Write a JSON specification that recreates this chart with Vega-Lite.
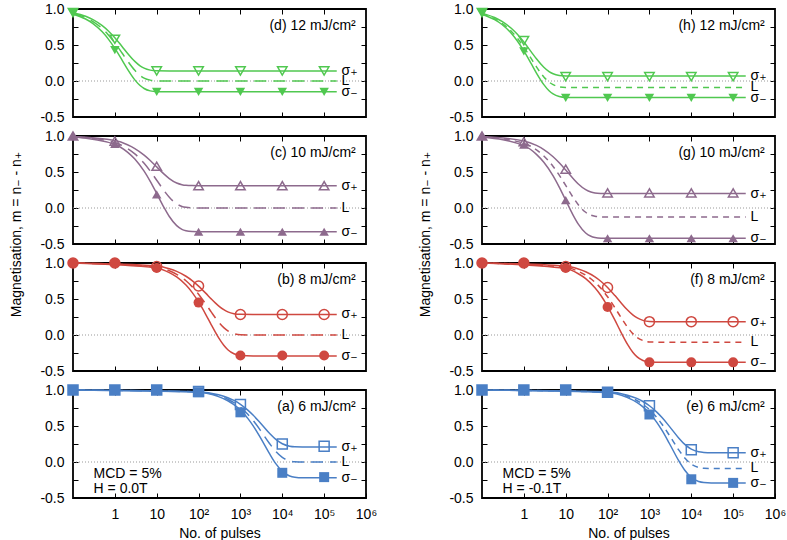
{
"$schema": "https://vega.github.io/schema/vega-lite/v6.json",
"padding": {"left": 8, "top": 1, "right": 0, "bottom": 2},
"datasets": {"all": [
{"p":"d","k":"c","s":"+","x":0.1,"m":0.948},{"p":"d","k":"c","s":"+","x":0.2,"m":0.899},{"p":"d","k":"c","s":"+","x":0.3,"m":0.853},{"p":"d","k":"c","s":"+","x":0.5,"m":0.769},{"p":"d","k":"c","s":"+","x":0.7,"m":0.695},{"p":"d","k":"c","s":"+","x":1,"m":0.6},{"p":"d","k":"c","s":"+","x":1.5,"m":0.477},{"p":"d","k":"c","s":"+","x":2,"m":0.386},{"p":"d","k":"c","s":"+","x":3,"m":0.272},{"p":"d","k":"c","s":"+","x":4,"m":0.211},{"p":"d","k":"c","s":"+","x":5,"m":0.178},{"p":"d","k":"c","s":"+","x":7,"m":0.151},{"p":"d","k":"c","s":"+","x":10,"m":0.142},{"p":"d","k":"c","s":"+","x":20,"m":0.14},{"p":"d","k":"c","s":"+","x":200000,"m":0.14},
{"p":"d","k":"c","s":"-","x":0.1,"m":0.928},{"p":"d","k":"c","s":"-","x":0.2,"m":0.861},{"p":"d","k":"c","s":"-","x":0.3,"m":0.798},{"p":"d","k":"c","s":"-","x":0.5,"m":0.683},{"p":"d","k":"c","s":"-","x":0.7,"m":0.582},{"p":"d","k":"c","s":"-","x":1,"m":0.453},{"p":"d","k":"c","s":"-","x":1.5,"m":0.287},{"p":"d","k":"c","s":"-","x":2,"m":0.166},{"p":"d","k":"c","s":"-","x":3,"m":0.016},{"p":"d","k":"c","s":"-","x":4,"m":-0.063},{"p":"d","k":"c","s":"-","x":5,"m":-0.104},{"p":"d","k":"c","s":"-","x":7,"m":-0.137},{"p":"d","k":"c","s":"-","x":10,"m":-0.148},{"p":"d","k":"c","s":"-","x":20,"m":-0.15},{"p":"d","k":"c","s":"-","x":200000,"m":-0.15},
{"p":"d","k":"c","s":"L","x":0.1,"m":0.938},{"p":"d","k":"c","s":"L","x":0.2,"m":0.88},{"p":"d","k":"c","s":"L","x":0.3,"m":0.826},{"p":"d","k":"c","s":"L","x":0.5,"m":0.727},{"p":"d","k":"c","s":"L","x":0.7,"m":0.64},{"p":"d","k":"c","s":"L","x":1,"m":0.529},{"p":"d","k":"c","s":"L","x":1.5,"m":0.385},{"p":"d","k":"c","s":"L","x":2,"m":0.28},{"p":"d","k":"c","s":"L","x":3,"m":0.148},{"p":"d","k":"c","s":"L","x":4,"m":0.078},{"p":"d","k":"c","s":"L","x":5,"m":0.041},{"p":"d","k":"c","s":"L","x":7,"m":0.012},{"p":"d","k":"c","s":"L","x":10,"m":0.002},{"p":"d","k":"c","s":"L","x":20,"m":0},{"p":"d","k":"c","s":"L","x":200000,"m":0},
{"p":"h","k":"c","s":"+","x":0.1,"m":0.939},{"p":"h","k":"c","s":"+","x":0.2,"m":0.882},{"p":"h","k":"c","s":"+","x":0.3,"m":0.828},{"p":"h","k":"c","s":"+","x":0.5,"m":0.732},{"p":"h","k":"c","s":"+","x":0.7,"m":0.648},{"p":"h","k":"c","s":"+","x":1,"m":0.541},{"p":"h","k":"c","s":"+","x":1.5,"m":0.405},{"p":"h","k":"c","s":"+","x":2,"m":0.309},{"p":"h","k":"c","s":"+","x":3,"m":0.191},{"p":"h","k":"c","s":"+","x":4,"m":0.131},{"p":"h","k":"c","s":"+","x":5,"m":0.101},{"p":"h","k":"c","s":"+","x":7,"m":0.078},{"p":"h","k":"c","s":"+","x":10,"m":0.071},{"p":"h","k":"c","s":"+","x":20,"m":0.07},{"p":"h","k":"c","s":"+","x":200000,"m":0.07},
{"p":"h","k":"c","s":"-","x":0.1,"m":0.924},{"p":"h","k":"c","s":"-","x":0.2,"m":0.852},{"p":"h","k":"c","s":"-","x":0.3,"m":0.785},{"p":"h","k":"c","s":"-","x":0.5,"m":0.663},{"p":"h","k":"c","s":"-","x":0.7,"m":0.555},{"p":"h","k":"c","s":"-","x":1,"m":0.418},{"p":"h","k":"c","s":"-","x":1.5,"m":0.24},{"p":"h","k":"c","s":"-","x":2,"m":0.111},{"p":"h","k":"c","s":"-","x":3,"m":-0.05},{"p":"h","k":"c","s":"-","x":4,"m":-0.135},{"p":"h","k":"c","s":"-","x":5,"m":-0.18},{"p":"h","k":"c","s":"-","x":7,"m":-0.216},{"p":"h","k":"c","s":"-","x":10,"m":-0.228},{"p":"h","k":"c","s":"-","x":20,"m":-0.23},{"p":"h","k":"c","s":"-","x":200000,"m":-0.23},
{"p":"h","k":"c","s":"L","x":0.1,"m":0.93},{"p":"h","k":"c","s":"L","x":0.2,"m":0.864},{"p":"h","k":"c","s":"L","x":0.3,"m":0.802},{"p":"h","k":"c","s":"L","x":0.5,"m":0.691},{"p":"h","k":"c","s":"L","x":0.7,"m":0.594},{"p":"h","k":"c","s":"L","x":1,"m":0.47},{"p":"h","k":"c","s":"L","x":1.5,"m":0.311},{"p":"h","k":"c","s":"L","x":2,"m":0.197},{"p":"h","k":"c","s":"L","x":3,"m":0.057},{"p":"h","k":"c","s":"L","x":4,"m":-0.014},{"p":"h","k":"c","s":"L","x":5,"m":-0.051},{"p":"h","k":"c","s":"L","x":7,"m":-0.08},{"p":"h","k":"c","s":"L","x":10,"m":-0.089},{"p":"h","k":"c","s":"L","x":20,"m":-0.09},{"p":"h","k":"c","s":"L","x":200000,"m":-0.09},
{"p":"c","k":"c","s":"+","x":0.1,"m":0.993},{"p":"c","k":"c","s":"+","x":1,"m":0.936},{"p":"c","k":"c","s":"+","x":2,"m":0.878},{"p":"c","k":"c","s":"+","x":3,"m":0.826},{"p":"c","k":"c","s":"+","x":5,"m":0.735},{"p":"c","k":"c","s":"+","x":7,"m":0.66},{"p":"c","k":"c","s":"+","x":10,"m":0.571},{"p":"c","k":"c","s":"+","x":15,"m":0.471},{"p":"c","k":"c","s":"+","x":20,"m":0.409},{"p":"c","k":"c","s":"+","x":30,"m":0.347},{"p":"c","k":"c","s":"+","x":40,"m":0.324},{"p":"c","k":"c","s":"+","x":50,"m":0.315},{"p":"c","k":"c","s":"+","x":70,"m":0.311},{"p":"c","k":"c","s":"+","x":100,"m":0.31},{"p":"c","k":"c","s":"+","x":200000,"m":0.31},
{"p":"c","k":"c","s":"-","x":0.1,"m":0.988},{"p":"c","k":"c","s":"-","x":1,"m":0.883},{"p":"c","k":"c","s":"-","x":2,"m":0.777},{"p":"c","k":"c","s":"-","x":3,"m":0.68},{"p":"c","k":"c","s":"-","x":5,"m":0.511},{"p":"c","k":"c","s":"-","x":7,"m":0.37},{"p":"c","k":"c","s":"-","x":10,"m":0.201},{"p":"c","k":"c","s":"-","x":15,"m":0.006},{"p":"c","k":"c","s":"-","x":20,"m":-0.118},{"p":"c","k":"c","s":"-","x":30,"m":-0.245},{"p":"c","k":"c","s":"-","x":40,"m":-0.296},{"p":"c","k":"c","s":"-","x":50,"m":-0.316},{"p":"c","k":"c","s":"-","x":70,"m":-0.328},{"p":"c","k":"c","s":"-","x":100,"m":-0.33},{"p":"c","k":"c","s":"-","x":200000,"m":-0.33},
{"p":"c","k":"c","s":"L","x":0.1,"m":0.99},{"p":"c","k":"c","s":"L","x":1,"m":0.909},{"p":"c","k":"c","s":"L","x":2,"m":0.827},{"p":"c","k":"c","s":"L","x":3,"m":0.751},{"p":"c","k":"c","s":"L","x":5,"m":0.621},{"p":"c","k":"c","s":"L","x":7,"m":0.513},{"p":"c","k":"c","s":"L","x":10,"m":0.386},{"p":"c","k":"c","s":"L","x":15,"m":0.24},{"p":"c","k":"c","s":"L","x":20,"m":0.149},{"p":"c","k":"c","s":"L","x":30,"m":0.057},{"p":"c","k":"c","s":"L","x":40,"m":0.022},{"p":"c","k":"c","s":"L","x":50,"m":0.009},{"p":"c","k":"c","s":"L","x":70,"m":0.001},{"p":"c","k":"c","s":"L","x":100,"m":0},{"p":"c","k":"c","s":"L","x":200000,"m":0},
{"p":"g","k":"c","s":"+","x":0.1,"m":0.993},{"p":"g","k":"c","s":"+","x":1,"m":0.932},{"p":"g","k":"c","s":"+","x":2,"m":0.869},{"p":"g","k":"c","s":"+","x":3,"m":0.812},{"p":"g","k":"c","s":"+","x":5,"m":0.712},{"p":"g","k":"c","s":"+","x":7,"m":0.628},{"p":"g","k":"c","s":"+","x":10,"m":0.528},{"p":"g","k":"c","s":"+","x":15,"m":0.41},{"p":"g","k":"c","s":"+","x":20,"m":0.334},{"p":"g","k":"c","s":"+","x":30,"m":0.255},{"p":"g","k":"c","s":"+","x":40,"m":0.222},{"p":"g","k":"c","s":"+","x":50,"m":0.209},{"p":"g","k":"c","s":"+","x":70,"m":0.202},{"p":"g","k":"c","s":"+","x":100,"m":0.2},{"p":"g","k":"c","s":"+","x":200000,"m":0.2},
{"p":"g","k":"c","s":"-","x":0.1,"m":0.986},{"p":"g","k":"c","s":"-","x":1,"m":0.866},{"p":"g","k":"c","s":"-","x":2,"m":0.745},{"p":"g","k":"c","s":"-","x":3,"m":0.635},{"p":"g","k":"c","s":"-","x":5,"m":0.446},{"p":"g","k":"c","s":"-","x":7,"m":0.29},{"p":"g","k":"c","s":"-","x":10,"m":0.108},{"p":"g","k":"c","s":"-","x":15,"m":-0.098},{"p":"g","k":"c","s":"-","x":20,"m":-0.224},{"p":"g","k":"c","s":"-","x":30,"m":-0.347},{"p":"g","k":"c","s":"-","x":40,"m":-0.393},{"p":"g","k":"c","s":"-","x":50,"m":-0.41},{"p":"g","k":"c","s":"-","x":70,"m":-0.419},{"p":"g","k":"c","s":"-","x":100,"m":-0.42},{"p":"g","k":"c","s":"-","x":200000,"m":-0.42},
{"p":"g","k":"c","s":"L","x":0.1,"m":0.989},{"p":"g","k":"c","s":"L","x":1,"m":0.899},{"p":"g","k":"c","s":"L","x":2,"m":0.807},{"p":"g","k":"c","s":"L","x":3,"m":0.723},{"p":"g","k":"c","s":"L","x":5,"m":0.577},{"p":"g","k":"c","s":"L","x":7,"m":0.456},{"p":"g","k":"c","s":"L","x":10,"m":0.313},{"p":"g","k":"c","s":"L","x":15,"m":0.148},{"p":"g","k":"c","s":"L","x":20,"m":0.045},{"p":"g","k":"c","s":"L","x":30,"m":-0.059},{"p":"g","k":"c","s":"L","x":40,"m":-0.099},{"p":"g","k":"c","s":"L","x":50,"m":-0.115},{"p":"g","k":"c","s":"L","x":70,"m":-0.123},{"p":"g","k":"c","s":"L","x":100,"m":-0.125},{"p":"g","k":"c","s":"L","x":200000,"m":-0.125},
{"p":"b","k":"c","s":"+","x":0.1,"m":1},{"p":"b","k":"c","s":"+","x":10,"m":0.959},{"p":"b","k":"c","s":"+","x":20,"m":0.92},{"p":"b","k":"c","s":"+","x":30,"m":0.883},{"p":"b","k":"c","s":"+","x":50,"m":0.816},{"p":"b","k":"c","s":"+","x":70,"m":0.756},{"p":"b","k":"c","s":"+","x":100,"m":0.679},{"p":"b","k":"c","s":"+","x":150,"m":0.578},{"p":"b","k":"c","s":"+","x":200,"m":0.502},{"p":"b","k":"c","s":"+","x":300,"m":0.405},{"p":"b","k":"c","s":"+","x":400,"m":0.351},{"p":"b","k":"c","s":"+","x":500,"m":0.321},{"p":"b","k":"c","s":"+","x":700,"m":0.296},{"p":"b","k":"c","s":"+","x":1000,"m":0.287},{"p":"b","k":"c","s":"+","x":2000,"m":0.285},{"p":"b","k":"c","s":"+","x":200000,"m":0.285},
{"p":"b","k":"c","s":"-","x":0.1,"m":0.999},{"p":"b","k":"c","s":"-","x":10,"m":0.932},{"p":"b","k":"c","s":"-","x":20,"m":0.867},{"p":"b","k":"c","s":"-","x":30,"m":0.806},{"p":"b","k":"c","s":"-","x":50,"m":0.693},{"p":"b","k":"c","s":"-","x":70,"m":0.592},{"p":"b","k":"c","s":"-","x":100,"m":0.459},{"p":"b","k":"c","s":"-","x":150,"m":0.281},{"p":"b","k":"c","s":"-","x":200,"m":0.145},{"p":"b","k":"c","s":"-","x":300,"m":-0.037},{"p":"b","k":"c","s":"-","x":400,"m":-0.143},{"p":"b","k":"c","s":"-","x":500,"m":-0.205},{"p":"b","k":"c","s":"-","x":700,"m":-0.261},{"p":"b","k":"c","s":"-","x":1000,"m":-0.284},{"p":"b","k":"c","s":"-","x":2000,"m":-0.29},{"p":"b","k":"c","s":"-","x":200000,"m":-0.29},
{"p":"b","k":"c","s":"L","x":0.1,"m":1},{"p":"b","k":"c","s":"L","x":10,"m":0.945},{"p":"b","k":"c","s":"L","x":20,"m":0.893},{"p":"b","k":"c","s":"L","x":30,"m":0.843},{"p":"b","k":"c","s":"L","x":50,"m":0.753},{"p":"b","k":"c","s":"L","x":70,"m":0.672},{"p":"b","k":"c","s":"L","x":100,"m":0.567},{"p":"b","k":"c","s":"L","x":150,"m":0.426},{"p":"b","k":"c","s":"L","x":200,"m":0.321},{"p":"b","k":"c","s":"L","x":300,"m":0.182},{"p":"b","k":"c","s":"L","x":400,"m":0.103},{"p":"b","k":"c","s":"L","x":500,"m":0.058},{"p":"b","k":"c","s":"L","x":700,"m":0.019},{"p":"b","k":"c","s":"L","x":1000,"m":0.003},{"p":"b","k":"c","s":"L","x":2000,"m":0},{"p":"b","k":"c","s":"L","x":200000,"m":0},
{"p":"f","k":"c","s":"+","x":0.1,"m":1},{"p":"f","k":"c","s":"+","x":10,"m":0.957},{"p":"f","k":"c","s":"+","x":20,"m":0.917},{"p":"f","k":"c","s":"+","x":30,"m":0.878},{"p":"f","k":"c","s":"+","x":50,"m":0.807},{"p":"f","k":"c","s":"+","x":70,"m":0.743},{"p":"f","k":"c","s":"+","x":100,"m":0.66},{"p":"f","k":"c","s":"+","x":150,"m":0.547},{"p":"f","k":"c","s":"+","x":200,"m":0.461},{"p":"f","k":"c","s":"+","x":300,"m":0.346},{"p":"f","k":"c","s":"+","x":400,"m":0.279},{"p":"f","k":"c","s":"+","x":500,"m":0.24},{"p":"f","k":"c","s":"+","x":700,"m":0.203},{"p":"f","k":"c","s":"+","x":1000,"m":0.189},{"p":"f","k":"c","s":"+","x":2000,"m":0.185},{"p":"f","k":"c","s":"+","x":200000,"m":0.185},
{"p":"f","k":"c","s":"-","x":0.1,"m":1},{"p":"f","k":"c","s":"-","x":10,"m":0.923},{"p":"f","k":"c","s":"-","x":20,"m":0.851},{"p":"f","k":"c","s":"-","x":30,"m":0.783},{"p":"f","k":"c","s":"-","x":50,"m":0.657},{"p":"f","k":"c","s":"-","x":70,"m":0.545},{"p":"f","k":"c","s":"-","x":100,"m":0.399},{"p":"f","k":"c","s":"-","x":150,"m":0.206},{"p":"f","k":"c","s":"-","x":200,"m":0.06},{"p":"f","k":"c","s":"-","x":300,"m":-0.131},{"p":"f","k":"c","s":"-","x":400,"m":-0.24},{"p":"f","k":"c","s":"-","x":500,"m":-0.301},{"p":"f","k":"c","s":"-","x":700,"m":-0.355},{"p":"f","k":"c","s":"-","x":1000,"m":-0.375},{"p":"f","k":"c","s":"-","x":2000,"m":-0.38},{"p":"f","k":"c","s":"-","x":200000,"m":-0.38},
{"p":"f","k":"c","s":"L","x":0.1,"m":1},{"p":"f","k":"c","s":"L","x":10,"m":0.94},{"p":"f","k":"c","s":"L","x":20,"m":0.884},{"p":"f","k":"c","s":"L","x":30,"m":0.831},{"p":"f","k":"c","s":"L","x":50,"m":0.733},{"p":"f","k":"c","s":"L","x":70,"m":0.646},{"p":"f","k":"c","s":"L","x":100,"m":0.531},{"p":"f","k":"c","s":"L","x":150,"m":0.378},{"p":"f","k":"c","s":"L","x":200,"m":0.262},{"p":"f","k":"c","s":"L","x":300,"m":0.108},{"p":"f","k":"c","s":"L","x":400,"m":0.019},{"p":"f","k":"c","s":"L","x":500,"m":-0.032},{"p":"f","k":"c","s":"L","x":700,"m":-0.077},{"p":"f","k":"c","s":"L","x":1000,"m":-0.096},{"p":"f","k":"c","s":"L","x":2000,"m":-0.1},{"p":"f","k":"c","s":"L","x":200000,"m":-0.1},
{"p":"a","k":"c","s":"+","x":0.1,"m":1},{"p":"a","k":"c","s":"+","x":100,"m":0.977},{"p":"a","k":"c","s":"+","x":300,"m":0.934},{"p":"a","k":"c","s":"+","x":500,"m":0.893},{"p":"a","k":"c","s":"+","x":700,"m":0.855},{"p":"a","k":"c","s":"+","x":1000,"m":0.801},{"p":"a","k":"c","s":"+","x":1500,"m":0.721},{"p":"a","k":"c","s":"+","x":2000,"m":0.652},{"p":"a","k":"c","s":"+","x":3000,"m":0.541},{"p":"a","k":"c","s":"+","x":5000,"m":0.395},{"p":"a","k":"c","s":"+","x":7000,"m":0.314},{"p":"a","k":"c","s":"+","x":10000,"m":0.254},{"p":"a","k":"c","s":"+","x":15000,"m":0.22},{"p":"a","k":"c","s":"+","x":20000,"m":0.212},{"p":"a","k":"c","s":"+","x":30000,"m":0.21},{"p":"a","k":"c","s":"+","x":200000,"m":0.21},
{"p":"a","k":"c","s":"-","x":0.1,"m":1},{"p":"a","k":"c","s":"-","x":100,"m":0.969},{"p":"a","k":"c","s":"-","x":300,"m":0.908},{"p":"a","k":"c","s":"-","x":500,"m":0.851},{"p":"a","k":"c","s":"-","x":700,"m":0.797},{"p":"a","k":"c","s":"-","x":1000,"m":0.72},{"p":"a","k":"c","s":"-","x":1500,"m":0.606},{"p":"a","k":"c","s":"-","x":2000,"m":0.505},{"p":"a","k":"c","s":"-","x":3000,"m":0.339},{"p":"a","k":"c","s":"-","x":5000,"m":0.112},{"p":"a","k":"c","s":"-","x":7000,"m":-0.023},{"p":"a","k":"c","s":"-","x":10000,"m":-0.13},{"p":"a","k":"c","s":"-","x":15000,"m":-0.195},{"p":"a","k":"c","s":"-","x":20000,"m":-0.213},{"p":"a","k":"c","s":"-","x":30000,"m":-0.22},{"p":"a","k":"c","s":"-","x":200000,"m":-0.22},
{"p":"a","k":"c","s":"L","x":0.1,"m":1},{"p":"a","k":"c","s":"L","x":100,"m":0.973},{"p":"a","k":"c","s":"L","x":300,"m":0.921},{"p":"a","k":"c","s":"L","x":500,"m":0.872},{"p":"a","k":"c","s":"L","x":700,"m":0.825},{"p":"a","k":"c","s":"L","x":1000,"m":0.76},{"p":"a","k":"c","s":"L","x":1500,"m":0.663},{"p":"a","k":"c","s":"L","x":2000,"m":0.578},{"p":"a","k":"c","s":"L","x":3000,"m":0.44},{"p":"a","k":"c","s":"L","x":5000,"m":0.254},{"p":"a","k":"c","s":"L","x":7000,"m":0.147},{"p":"a","k":"c","s":"L","x":10000,"m":0.065},{"p":"a","k":"c","s":"L","x":15000,"m":0.016},{"p":"a","k":"c","s":"L","x":20000,"m":0.004},{"p":"a","k":"c","s":"L","x":30000,"m":0},{"p":"a","k":"c","s":"L","x":200000,"m":0},
{"p":"e","k":"c","s":"+","x":0.1,"m":1},{"p":"e","k":"c","s":"+","x":100,"m":0.975},{"p":"e","k":"c","s":"+","x":300,"m":0.928},{"p":"e","k":"c","s":"+","x":500,"m":0.883},{"p":"e","k":"c","s":"+","x":700,"m":0.84},{"p":"e","k":"c","s":"+","x":1000,"m":0.781},{"p":"e","k":"c","s":"+","x":1500,"m":0.693},{"p":"e","k":"c","s":"+","x":2000,"m":0.617},{"p":"e","k":"c","s":"+","x":3000,"m":0.495},{"p":"e","k":"c","s":"+","x":5000,"m":0.334},{"p":"e","k":"c","s":"+","x":7000,"m":0.244},{"p":"e","k":"c","s":"+","x":10000,"m":0.178},{"p":"e","k":"c","s":"+","x":15000,"m":0.141},{"p":"e","k":"c","s":"+","x":20000,"m":0.133},{"p":"e","k":"c","s":"+","x":30000,"m":0.13},{"p":"e","k":"c","s":"+","x":200000,"m":0.13},
{"p":"e","k":"c","s":"-","x":0.1,"m":1},{"p":"e","k":"c","s":"-","x":100,"m":0.964},{"p":"e","k":"c","s":"-","x":300,"m":0.894},{"p":"e","k":"c","s":"-","x":500,"m":0.828},{"p":"e","k":"c","s":"-","x":700,"m":0.766},{"p":"e","k":"c","s":"-","x":1000,"m":0.679},{"p":"e","k":"c","s":"-","x":1500,"m":0.55},{"p":"e","k":"c","s":"-","x":2000,"m":0.438},{"p":"e","k":"c","s":"-","x":3000,"m":0.257},{"p":"e","k":"c","s":"-","x":5000,"m":0.019},{"p":"e","k":"c","s":"-","x":7000,"m":-0.115},{"p":"e","k":"c","s":"-","x":10000,"m":-0.216},{"p":"e","k":"c","s":"-","x":15000,"m":-0.272},{"p":"e","k":"c","s":"-","x":20000,"m":-0.286},{"p":"e","k":"c","s":"-","x":30000,"m":-0.29},{"p":"e","k":"c","s":"-","x":200000,"m":-0.29},
{"p":"e","k":"c","s":"L","x":0.1,"m":1},{"p":"e","k":"c","s":"L","x":100,"m":0.969},{"p":"e","k":"c","s":"L","x":300,"m":0.91},{"p":"e","k":"c","s":"L","x":500,"m":0.854},{"p":"e","k":"c","s":"L","x":700,"m":0.801},{"p":"e","k":"c","s":"L","x":1000,"m":0.728},{"p":"e","k":"c","s":"L","x":1500,"m":0.618},{"p":"e","k":"c","s":"L","x":2000,"m":0.524},{"p":"e","k":"c","s":"L","x":3000,"m":0.37},{"p":"e","k":"c","s":"L","x":5000,"m":0.169},{"p":"e","k":"c","s":"L","x":7000,"m":0.056},{"p":"e","k":"c","s":"L","x":10000,"m":-0.028},{"p":"e","k":"c","s":"L","x":15000,"m":-0.075},{"p":"e","k":"c","s":"L","x":20000,"m":-0.087},{"p":"e","k":"c","s":"L","x":30000,"m":-0.09},{"p":"e","k":"c","s":"L","x":200000,"m":-0.09},
{"p":"d","k":"o","x":0.1,"m":0.95},{"p":"d","k":"o","x":1,"m":0.58},{"p":"d","k":"o","x":10,"m":0.14},{"p":"d","k":"o","x":100,"m":0.14},{"p":"d","k":"o","x":1000,"m":0.14},{"p":"d","k":"o","x":10000,"m":0.14},{"p":"d","k":"o","x":100000,"m":0.14},
{"p":"d","k":"f","x":0.1,"m":0.95},{"p":"d","k":"f","x":1,"m":0.43},{"p":"d","k":"f","x":10,"m":-0.15},{"p":"d","k":"f","x":100,"m":-0.15},{"p":"d","k":"f","x":1000,"m":-0.15},{"p":"d","k":"f","x":10000,"m":-0.15},{"p":"d","k":"f","x":100000,"m":-0.15},
{"p":"c","k":"o","x":0.1,"m":1},{"p":"c","k":"o","x":1,"m":0.93},{"p":"c","k":"o","x":10,"m":0.58},{"p":"c","k":"o","x":100,"m":0.31},{"p":"c","k":"o","x":1000,"m":0.31},{"p":"c","k":"o","x":10000,"m":0.31},{"p":"c","k":"o","x":100000,"m":0.31},
{"p":"c","k":"f","x":0.1,"m":1},{"p":"c","k":"f","x":1,"m":0.89},{"p":"c","k":"f","x":10,"m":0.19},{"p":"c","k":"f","x":100,"m":-0.33},{"p":"c","k":"f","x":1000,"m":-0.33},{"p":"c","k":"f","x":10000,"m":-0.33},{"p":"c","k":"f","x":100000,"m":-0.33},
{"p":"b","k":"o","x":0.1,"m":1},{"p":"b","k":"o","x":1,"m":1},{"p":"b","k":"o","x":10,"m":0.95},{"p":"b","k":"o","x":100,"m":0.68},{"p":"b","k":"o","x":1000,"m":0.285},{"p":"b","k":"o","x":10000,"m":0.285},{"p":"b","k":"o","x":100000,"m":0.285},
{"p":"b","k":"f","x":0.1,"m":1},{"p":"b","k":"f","x":1,"m":1},{"p":"b","k":"f","x":10,"m":0.93},{"p":"b","k":"f","x":100,"m":0.45},{"p":"b","k":"f","x":1000,"m":-0.285},{"p":"b","k":"f","x":10000,"m":-0.285},{"p":"b","k":"f","x":100000,"m":-0.285},
{"p":"a","k":"o","x":0.1,"m":1},{"p":"a","k":"o","x":1,"m":1},{"p":"a","k":"o","x":10,"m":1},{"p":"a","k":"o","x":100,"m":0.98},{"p":"a","k":"o","x":1000,"m":0.8},{"p":"a","k":"o","x":10000,"m":0.25},{"p":"a","k":"o","x":100000,"m":0.22},
{"p":"a","k":"f","x":0.1,"m":1},{"p":"a","k":"f","x":1,"m":1},{"p":"a","k":"f","x":10,"m":1},{"p":"a","k":"f","x":100,"m":0.97},{"p":"a","k":"f","x":1000,"m":0.69},{"p":"a","k":"f","x":10000,"m":-0.15},{"p":"a","k":"f","x":100000,"m":-0.21},
{"p":"h","k":"o","x":0.1,"m":0.95},{"p":"h","k":"o","x":1,"m":0.56},{"p":"h","k":"o","x":10,"m":0.06},{"p":"h","k":"o","x":100,"m":0.06},{"p":"h","k":"o","x":1000,"m":0.06},{"p":"h","k":"o","x":10000,"m":0.06},{"p":"h","k":"o","x":100000,"m":0.06},
{"p":"h","k":"f","x":0.1,"m":0.95},{"p":"h","k":"f","x":1,"m":0.41},{"p":"h","k":"f","x":10,"m":-0.235},{"p":"h","k":"f","x":100,"m":-0.235},{"p":"h","k":"f","x":1000,"m":-0.235},{"p":"h","k":"f","x":10000,"m":-0.235},{"p":"h","k":"f","x":100000,"m":-0.235},
{"p":"g","k":"o","x":0.1,"m":1},{"p":"g","k":"o","x":1,"m":0.92},{"p":"g","k":"o","x":10,"m":0.54},{"p":"g","k":"o","x":100,"m":0.21},{"p":"g","k":"o","x":1000,"m":0.21},{"p":"g","k":"o","x":10000,"m":0.21},{"p":"g","k":"o","x":100000,"m":0.21},
{"p":"g","k":"f","x":0.1,"m":1},{"p":"g","k":"f","x":1,"m":0.88},{"p":"g","k":"f","x":10,"m":0.11},{"p":"g","k":"f","x":100,"m":-0.42},{"p":"g","k":"f","x":1000,"m":-0.42},{"p":"g","k":"f","x":10000,"m":-0.42},{"p":"g","k":"f","x":100000,"m":-0.42},
{"p":"f","k":"o","x":0.1,"m":1},{"p":"f","k":"o","x":1,"m":1},{"p":"f","k":"o","x":10,"m":0.95},{"p":"f","k":"o","x":100,"m":0.66},{"p":"f","k":"o","x":1000,"m":0.185},{"p":"f","k":"o","x":10000,"m":0.185},{"p":"f","k":"o","x":100000,"m":0.185},
{"p":"f","k":"f","x":0.1,"m":1},{"p":"f","k":"f","x":1,"m":1},{"p":"f","k":"f","x":10,"m":0.93},{"p":"f","k":"f","x":100,"m":0.39},{"p":"f","k":"f","x":1000,"m":-0.38},{"p":"f","k":"f","x":10000,"m":-0.38},{"p":"f","k":"f","x":100000,"m":-0.38},
{"p":"e","k":"o","x":0.1,"m":1},{"p":"e","k":"o","x":1,"m":1},{"p":"e","k":"o","x":10,"m":1},{"p":"e","k":"o","x":100,"m":0.97},{"p":"e","k":"o","x":1000,"m":0.78},{"p":"e","k":"o","x":10000,"m":0.17},{"p":"e","k":"o","x":100000,"m":0.13},
{"p":"e","k":"f","x":0.1,"m":1},{"p":"e","k":"f","x":1,"m":1},{"p":"e","k":"f","x":10,"m":1},{"p":"e","k":"f","x":100,"m":0.97},{"p":"e","k":"f","x":1000,"m":0.66},{"p":"e","k":"f","x":10000,"m":-0.24},{"p":"e","k":"f","x":100000,"m":-0.29},
{"p":"d","k":"t","x":260000,"m":0.14,"t":"σ₊"},{"p":"d","k":"t","x":260000,"m":0,"t":"L"},{"p":"d","k":"t","x":260000,"m":-0.15,"t":"σ₋"},
{"p":"c","k":"t","x":260000,"m":0.31,"t":"σ₊"},{"p":"c","k":"t","x":260000,"m":0,"t":"L"},{"p":"c","k":"t","x":260000,"m":-0.33,"t":"σ₋"},
{"p":"b","k":"t","x":260000,"m":0.285,"t":"σ₊"},{"p":"b","k":"t","x":260000,"m":0,"t":"L"},{"p":"b","k":"t","x":260000,"m":-0.29,"t":"σ₋"},
{"p":"a","k":"t","x":260000,"m":0.21,"t":"σ₊"},{"p":"a","k":"t","x":260000,"m":0,"t":"L"},{"p":"a","k":"t","x":260000,"m":-0.22,"t":"σ₋"},
{"p":"h","k":"t","x":260000,"m":0.07,"t":"σ₊"},{"p":"h","k":"t","x":260000,"m":-0.09,"t":"L"},{"p":"h","k":"t","x":260000,"m":-0.23,"t":"σ₋"},
{"p":"g","k":"t","x":260000,"m":0.2,"t":"σ₊"},{"p":"g","k":"t","x":260000,"m":-0.125,"t":"L"},{"p":"g","k":"t","x":260000,"m":-0.42,"t":"σ₋"},
{"p":"f","k":"t","x":260000,"m":0.185,"t":"σ₊"},{"p":"f","k":"t","x":260000,"m":-0.1,"t":"L"},{"p":"f","k":"t","x":260000,"m":-0.38,"t":"σ₋"},
{"p":"e","k":"t","x":260000,"m":0.13,"t":"σ₊"},{"p":"e","k":"t","x":260000,"m":-0.09,"t":"L"},{"p":"e","k":"t","x":260000,"m":-0.29,"t":"σ₋"},
{"p":"a","k":"t","x":0.31,"m":-0.16,"t":"MCD = 5%"},{"p":"a","k":"t","x":0.31,"m":-0.37,"t":"H = 0.0T"},
{"p":"e","k":"t","x":0.31,"m":-0.16,"t":"MCD = 5%"},{"p":"e","k":"t","x":0.31,"m":-0.37,"t":"H = -0.1T"},
{"p":"d","k":"h","x":570000,"m":0.76,"t":"(d) 12 mJ/cm²"},{"p":"c","k":"h","x":570000,"m":0.76,"t":"(c) 10 mJ/cm²"},{"p":"b","k":"h","x":570000,"m":0.76,"t":"(b) 8 mJ/cm²"},{"p":"a","k":"h","x":570000,"m":0.76,"t":"(a) 6 mJ/cm²"},
{"p":"h","k":"h","x":570000,"m":0.76,"t":"(h) 12 mJ/cm²"},{"p":"g","k":"h","x":570000,"m":0.76,"t":"(g) 10 mJ/cm²"},{"p":"f","k":"h","x":570000,"m":0.76,"t":"(f) 8 mJ/cm²"},{"p":"e","k":"h","x":570000,"m":0.76,"t":"(e) 6 mJ/cm²"}
]},
"spacing": 39,
"hconcat": [
{"vconcat": [
{"width":293,"height":108,"resolve":{"axis":{"x":"independent","y":"independent"}},"layer":[
 {"data":{"values":[{}]},"mark":{"type":"rule","color":"#999999","strokeDash":[1,2],"strokeWidth":1},"encoding":{"x":{"datum":0.1,"type":"quantitative","scale":{"type":"log","domain":[0.1,1000000]},"axis":{"orient":"top","values":[1,10,100,1000,10000,100000],"labels":false,"title":null}},"x2":{"datum":1000000},"y":{"datum":0,"type":"quantitative","scale":{"domain":[-0.5,1]},"axis":{"orient":"right","values":[-0.25,0,0.25,0.5,0.75],"labels":false,"title":null}}}},
 {"data":{"name":"all"},"transform":[{"filter":"datum.p=='d' && datum.k=='c' && datum.s!='L'"}],"mark":{"type":"line","interpolate":"monotone","color":"#50c850","strokeWidth":1.5},"encoding":{"x":{"field":"x","type":"quantitative","scale":{"type":"log","domain":[0.1,1000000]},"axis":{"orient":"bottom","values":[1,10,100,1000,10000,100000],"labels":false,"title":null}},"y":{"field":"m","type":"quantitative","scale":{"domain":[-0.5,1]},"axis":{"orient":"left","values":[-0.5,-0.25,0,0.25,0.5,0.75,1],"labelExpr":"datum.value == 1 ? '1.0' : datum.value == 0.5 ? '0.5' : datum.value == 0 ? '0.0' : datum.value == -0.5 ? '-0.5' : ''","title":null}},"detail":{"field":"s"}}},
 {"data":{"name":"all"},"transform":[{"filter":"datum.p=='d' && datum.s=='L'"}],"mark":{"type":"line","interpolate":"monotone","color":"#50c850","strokeWidth":1.5,"strokeDash":[12,7]},"encoding":{"x":{"field":"x","type":"quantitative","scale":{"type":"log","domain":[0.1,1000000]},"axis":null},"y":{"field":"m","type":"quantitative","scale":{"domain":[-0.5,1]},"axis":null}}},
 {"data":{"name":"all"},"transform":[{"filter":"datum.p=='d' && datum.k=='o'"}],"mark":{"type":"point","shape":"triangle-down","filled":false,"size":90,"strokeWidth":1.5,"color":"#50c850","opacity":1},"encoding":{"x":{"field":"x","type":"quantitative","scale":{"type":"log","domain":[0.1,1000000]},"axis":null},"y":{"field":"m","type":"quantitative","scale":{"domain":[-0.5,1]},"axis":null}}},
 {"data":{"name":"all"},"transform":[{"filter":"datum.p=='d' && datum.k=='f'"}],"mark":{"type":"point","shape":"triangle-down","filled":true,"size":90,"color":"#50c850","opacity":1},"encoding":{"x":{"field":"x","type":"quantitative","scale":{"type":"log","domain":[0.1,1000000]},"axis":null},"y":{"field":"m","type":"quantitative","scale":{"domain":[-0.5,1]},"axis":null}}},
 {"data":{"name":"all"},"transform":[{"filter":"datum.p=='d' && datum.k=='t'"}],"mark":{"type":"text","align":"left","baseline":"middle","fontSize":14,"color":"#000"},"encoding":{"x":{"field":"x","type":"quantitative","scale":{"type":"log","domain":[0.1,1000000]},"axis":null},"y":{"field":"m","type":"quantitative","scale":{"domain":[-0.5,1]},"axis":null},"text":{"field":"t"}}},
 {"data":{"name":"all"},"transform":[{"filter":"datum.p=='d' && datum.k=='h'"}],"mark":{"type":"text","align":"right","baseline":"middle","fontSize":14,"color":"#000"},"encoding":{"x":{"field":"x","type":"quantitative","scale":{"type":"log","domain":[0.1,1000000]},"axis":null},"y":{"field":"m","type":"quantitative","scale":{"domain":[-0.5,1]},"axis":null},"text":{"field":"t"}}}
]},
{"width":293,"height":108,"resolve":{"axis":{"x":"independent","y":"independent"}},"layer":[
 {"data":{"values":[{}]},"mark":{"type":"rule","color":"#999999","strokeDash":[1,2],"strokeWidth":1},"encoding":{"x":{"datum":0.1,"type":"quantitative","scale":{"type":"log","domain":[0.1,1000000]},"axis":{"orient":"top","values":[1,10,100,1000,10000,100000],"labels":false,"title":null}},"x2":{"datum":1000000},"y":{"datum":0,"type":"quantitative","scale":{"domain":[-0.5,1]},"axis":{"orient":"right","values":[-0.25,0,0.25,0.5,0.75],"labels":false,"title":null}}}},
 {"data":{"name":"all"},"transform":[{"filter":"datum.p=='c' && datum.k=='c' && datum.s!='L'"}],"mark":{"type":"line","interpolate":"monotone","color":"#8d6a8d","strokeWidth":1.5},"encoding":{"x":{"field":"x","type":"quantitative","scale":{"type":"log","domain":[0.1,1000000]},"axis":{"orient":"bottom","values":[1,10,100,1000,10000,100000],"labels":false,"title":null}},"y":{"field":"m","type":"quantitative","scale":{"domain":[-0.5,1]},"axis":{"orient":"left","values":[-0.5,-0.25,0,0.25,0.5,0.75,1],"labelExpr":"datum.value == 1 ? '1.0' : datum.value == 0.5 ? '0.5' : datum.value == 0 ? '0.0' : datum.value == -0.5 ? '-0.5' : ''","title":"Magnetisation, m = n₋ - n₊","titleY":98,"titlePadding":16}},"detail":{"field":"s"}}},
 {"data":{"name":"all"},"transform":[{"filter":"datum.p=='c' && datum.s=='L'"}],"mark":{"type":"line","interpolate":"monotone","color":"#8d6a8d","strokeWidth":1.5,"strokeDash":[12,7]},"encoding":{"x":{"field":"x","type":"quantitative","scale":{"type":"log","domain":[0.1,1000000]},"axis":null},"y":{"field":"m","type":"quantitative","scale":{"domain":[-0.5,1]},"axis":null}}},
 {"data":{"name":"all"},"transform":[{"filter":"datum.p=='c' && datum.k=='o'"}],"mark":{"type":"point","shape":"triangle-up","filled":false,"size":90,"strokeWidth":1.5,"color":"#8d6a8d","opacity":1},"encoding":{"x":{"field":"x","type":"quantitative","scale":{"type":"log","domain":[0.1,1000000]},"axis":null},"y":{"field":"m","type":"quantitative","scale":{"domain":[-0.5,1]},"axis":null}}},
 {"data":{"name":"all"},"transform":[{"filter":"datum.p=='c' && datum.k=='f'"}],"mark":{"type":"point","shape":"triangle-up","filled":true,"size":90,"color":"#8d6a8d","opacity":1},"encoding":{"x":{"field":"x","type":"quantitative","scale":{"type":"log","domain":[0.1,1000000]},"axis":null},"y":{"field":"m","type":"quantitative","scale":{"domain":[-0.5,1]},"axis":null}}},
 {"data":{"name":"all"},"transform":[{"filter":"datum.p=='c' && datum.k=='t'"}],"mark":{"type":"text","align":"left","baseline":"middle","fontSize":14,"color":"#000"},"encoding":{"x":{"field":"x","type":"quantitative","scale":{"type":"log","domain":[0.1,1000000]},"axis":null},"y":{"field":"m","type":"quantitative","scale":{"domain":[-0.5,1]},"axis":null},"text":{"field":"t"}}},
 {"data":{"name":"all"},"transform":[{"filter":"datum.p=='c' && datum.k=='h'"}],"mark":{"type":"text","align":"right","baseline":"middle","fontSize":14,"color":"#000"},"encoding":{"x":{"field":"x","type":"quantitative","scale":{"type":"log","domain":[0.1,1000000]},"axis":null},"y":{"field":"m","type":"quantitative","scale":{"domain":[-0.5,1]},"axis":null},"text":{"field":"t"}}}
]},
{"width":293,"height":108,"resolve":{"axis":{"x":"independent","y":"independent"}},"layer":[
 {"data":{"values":[{}]},"mark":{"type":"rule","color":"#999999","strokeDash":[1,2],"strokeWidth":1},"encoding":{"x":{"datum":0.1,"type":"quantitative","scale":{"type":"log","domain":[0.1,1000000]},"axis":{"orient":"top","values":[1,10,100,1000,10000,100000],"labels":false,"title":null}},"x2":{"datum":1000000},"y":{"datum":0,"type":"quantitative","scale":{"domain":[-0.5,1]},"axis":{"orient":"right","values":[-0.25,0,0.25,0.5,0.75],"labels":false,"title":null}}}},
 {"data":{"name":"all"},"transform":[{"filter":"datum.p=='b' && datum.k=='c' && datum.s!='L'"}],"mark":{"type":"line","interpolate":"monotone","color":"#cf4840","strokeWidth":1.5},"encoding":{"x":{"field":"x","type":"quantitative","scale":{"type":"log","domain":[0.1,1000000]},"axis":{"orient":"bottom","values":[1,10,100,1000,10000,100000],"labels":false,"title":null}},"y":{"field":"m","type":"quantitative","scale":{"domain":[-0.5,1]},"axis":{"orient":"left","values":[-0.5,-0.25,0,0.25,0.5,0.75,1],"labelExpr":"datum.value == 1 ? '1.0' : datum.value == 0.5 ? '0.5' : datum.value == 0 ? '0.0' : datum.value == -0.5 ? '-0.5' : ''","title":null}},"detail":{"field":"s"}}},
 {"data":{"name":"all"},"transform":[{"filter":"datum.p=='b' && datum.s=='L'"}],"mark":{"type":"line","interpolate":"monotone","color":"#cf4840","strokeWidth":1.5,"strokeDash":[12,7]},"encoding":{"x":{"field":"x","type":"quantitative","scale":{"type":"log","domain":[0.1,1000000]},"axis":null},"y":{"field":"m","type":"quantitative","scale":{"domain":[-0.5,1]},"axis":null}}},
 {"data":{"name":"all"},"transform":[{"filter":"datum.p=='b' && datum.k=='o'"}],"mark":{"type":"point","shape":"circle","filled":false,"size":100,"strokeWidth":1.5,"color":"#cf4840","opacity":1},"encoding":{"x":{"field":"x","type":"quantitative","scale":{"type":"log","domain":[0.1,1000000]},"axis":null},"y":{"field":"m","type":"quantitative","scale":{"domain":[-0.5,1]},"axis":null}}},
 {"data":{"name":"all"},"transform":[{"filter":"datum.p=='b' && datum.k=='f'"}],"mark":{"type":"point","shape":"circle","filled":true,"size":100,"color":"#cf4840","opacity":1},"encoding":{"x":{"field":"x","type":"quantitative","scale":{"type":"log","domain":[0.1,1000000]},"axis":null},"y":{"field":"m","type":"quantitative","scale":{"domain":[-0.5,1]},"axis":null}}},
 {"data":{"name":"all"},"transform":[{"filter":"datum.p=='b' && datum.k=='t'"}],"mark":{"type":"text","align":"left","baseline":"middle","fontSize":14,"color":"#000"},"encoding":{"x":{"field":"x","type":"quantitative","scale":{"type":"log","domain":[0.1,1000000]},"axis":null},"y":{"field":"m","type":"quantitative","scale":{"domain":[-0.5,1]},"axis":null},"text":{"field":"t"}}},
 {"data":{"name":"all"},"transform":[{"filter":"datum.p=='b' && datum.k=='h'"}],"mark":{"type":"text","align":"right","baseline":"middle","fontSize":14,"color":"#000"},"encoding":{"x":{"field":"x","type":"quantitative","scale":{"type":"log","domain":[0.1,1000000]},"axis":null},"y":{"field":"m","type":"quantitative","scale":{"domain":[-0.5,1]},"axis":null},"text":{"field":"t"}}}
]},
{"width":293,"height":108,"resolve":{"axis":{"x":"independent","y":"independent"}},"layer":[
 {"data":{"values":[{}]},"mark":{"type":"rule","color":"#999999","strokeDash":[1,2],"strokeWidth":1},"encoding":{"x":{"datum":0.1,"type":"quantitative","scale":{"type":"log","domain":[0.1,1000000]},"axis":{"orient":"top","values":[1,10,100,1000,10000,100000],"labels":false,"title":null}},"x2":{"datum":1000000},"y":{"datum":0,"type":"quantitative","scale":{"domain":[-0.5,1]},"axis":{"orient":"right","values":[-0.25,0,0.25,0.5,0.75],"labels":false,"title":null}}}},
 {"data":{"name":"all"},"transform":[{"filter":"datum.p=='a' && datum.k=='c' && datum.s!='L'"}],"mark":{"type":"line","interpolate":"monotone","color":"#4a7fc5","strokeWidth":1.5},"encoding":{"x":{"field":"x","type":"quantitative","scale":{"type":"log","domain":[0.1,1000000]},"axis":{"orient":"bottom","values":[1,10,100,1000,10000,100000,1000000],"labelExpr":"datum.value < 5 ? '1' : datum.value < 50 ? '10' : '10' + ['', '', '²', '³', '⁴', '⁵', '⁶'][round(log(datum.value) / LN10)]","title":"No. of pulses","titlePadding":5}},"y":{"field":"m","type":"quantitative","scale":{"domain":[-0.5,1]},"axis":{"orient":"left","values":[-0.5,-0.25,0,0.25,0.5,0.75,1],"labelExpr":"datum.value == 1 ? '1.0' : datum.value == 0.5 ? '0.5' : datum.value == 0 ? '0.0' : datum.value == -0.5 ? '-0.5' : ''","title":null}},"detail":{"field":"s"}}},
 {"data":{"name":"all"},"transform":[{"filter":"datum.p=='a' && datum.s=='L'"}],"mark":{"type":"line","interpolate":"monotone","color":"#4a7fc5","strokeWidth":1.5,"strokeDash":[12,7]},"encoding":{"x":{"field":"x","type":"quantitative","scale":{"type":"log","domain":[0.1,1000000]},"axis":null},"y":{"field":"m","type":"quantitative","scale":{"domain":[-0.5,1]},"axis":null}}},
 {"data":{"name":"all"},"transform":[{"filter":"datum.p=='a' && datum.k=='o'"}],"mark":{"type":"point","shape":"square","filled":false,"size":100,"strokeWidth":1.5,"color":"#4a7fc5","opacity":1},"encoding":{"x":{"field":"x","type":"quantitative","scale":{"type":"log","domain":[0.1,1000000]},"axis":null},"y":{"field":"m","type":"quantitative","scale":{"domain":[-0.5,1]},"axis":null}}},
 {"data":{"name":"all"},"transform":[{"filter":"datum.p=='a' && datum.k=='f'"}],"mark":{"type":"point","shape":"square","filled":true,"size":100,"color":"#4a7fc5","opacity":1},"encoding":{"x":{"field":"x","type":"quantitative","scale":{"type":"log","domain":[0.1,1000000]},"axis":null},"y":{"field":"m","type":"quantitative","scale":{"domain":[-0.5,1]},"axis":null}}},
 {"data":{"name":"all"},"transform":[{"filter":"datum.p=='a' && datum.k=='t'"}],"mark":{"type":"text","align":"left","baseline":"middle","fontSize":14,"color":"#000"},"encoding":{"x":{"field":"x","type":"quantitative","scale":{"type":"log","domain":[0.1,1000000]},"axis":null},"y":{"field":"m","type":"quantitative","scale":{"domain":[-0.5,1]},"axis":null},"text":{"field":"t"}}},
 {"data":{"name":"all"},"transform":[{"filter":"datum.p=='a' && datum.k=='h'"}],"mark":{"type":"text","align":"right","baseline":"middle","fontSize":14,"color":"#000"},"encoding":{"x":{"field":"x","type":"quantitative","scale":{"type":"log","domain":[0.1,1000000]},"axis":null},"y":{"field":"m","type":"quantitative","scale":{"domain":[-0.5,1]},"axis":null},"text":{"field":"t"}}}
]}
], "spacing": 19, "bounds": "flush"},
{"vconcat": [
{"width":293,"height":108,"resolve":{"axis":{"x":"independent","y":"independent"}},"layer":[
 {"data":{"values":[{}]},"mark":{"type":"rule","color":"#999999","strokeDash":[1,2],"strokeWidth":1},"encoding":{"x":{"datum":0.1,"type":"quantitative","scale":{"type":"log","domain":[0.1,1000000]},"axis":{"orient":"top","values":[1,10,100,1000,10000,100000],"labels":false,"title":null}},"x2":{"datum":1000000},"y":{"datum":0,"type":"quantitative","scale":{"domain":[-0.5,1]},"axis":{"orient":"right","values":[-0.25,0,0.25,0.5,0.75],"labels":false,"title":null}}}},
 {"data":{"name":"all"},"transform":[{"filter":"datum.p=='h' && datum.k=='c' && datum.s!='L'"}],"mark":{"type":"line","interpolate":"monotone","color":"#50c850","strokeWidth":1.5},"encoding":{"x":{"field":"x","type":"quantitative","scale":{"type":"log","domain":[0.1,1000000]},"axis":{"orient":"bottom","values":[1,10,100,1000,10000,100000],"labels":false,"title":null}},"y":{"field":"m","type":"quantitative","scale":{"domain":[-0.5,1]},"axis":{"orient":"left","values":[-0.5,-0.25,0,0.25,0.5,0.75,1],"labelExpr":"datum.value == 1 ? '1.0' : datum.value == 0.5 ? '0.5' : datum.value == 0 ? '0.0' : datum.value == -0.5 ? '-0.5' : ''","title":null}},"detail":{"field":"s"}}},
 {"data":{"name":"all"},"transform":[{"filter":"datum.p=='h' && datum.s=='L'"}],"mark":{"type":"line","interpolate":"monotone","color":"#50c850","strokeWidth":1.5,"strokeDash":[6,5]},"encoding":{"x":{"field":"x","type":"quantitative","scale":{"type":"log","domain":[0.1,1000000]},"axis":null},"y":{"field":"m","type":"quantitative","scale":{"domain":[-0.5,1]},"axis":null}}},
 {"data":{"name":"all"},"transform":[{"filter":"datum.p=='h' && datum.k=='o'"}],"mark":{"type":"point","shape":"triangle-down","filled":false,"size":90,"strokeWidth":1.5,"color":"#50c850","opacity":1},"encoding":{"x":{"field":"x","type":"quantitative","scale":{"type":"log","domain":[0.1,1000000]},"axis":null},"y":{"field":"m","type":"quantitative","scale":{"domain":[-0.5,1]},"axis":null}}},
 {"data":{"name":"all"},"transform":[{"filter":"datum.p=='h' && datum.k=='f'"}],"mark":{"type":"point","shape":"triangle-down","filled":true,"size":90,"color":"#50c850","opacity":1},"encoding":{"x":{"field":"x","type":"quantitative","scale":{"type":"log","domain":[0.1,1000000]},"axis":null},"y":{"field":"m","type":"quantitative","scale":{"domain":[-0.5,1]},"axis":null}}},
 {"data":{"name":"all"},"transform":[{"filter":"datum.p=='h' && datum.k=='t'"}],"mark":{"type":"text","align":"left","baseline":"middle","fontSize":14,"color":"#000"},"encoding":{"x":{"field":"x","type":"quantitative","scale":{"type":"log","domain":[0.1,1000000]},"axis":null},"y":{"field":"m","type":"quantitative","scale":{"domain":[-0.5,1]},"axis":null},"text":{"field":"t"}}},
 {"data":{"name":"all"},"transform":[{"filter":"datum.p=='h' && datum.k=='h'"}],"mark":{"type":"text","align":"right","baseline":"middle","fontSize":14,"color":"#000"},"encoding":{"x":{"field":"x","type":"quantitative","scale":{"type":"log","domain":[0.1,1000000]},"axis":null},"y":{"field":"m","type":"quantitative","scale":{"domain":[-0.5,1]},"axis":null},"text":{"field":"t"}}}
]},
{"width":293,"height":108,"resolve":{"axis":{"x":"independent","y":"independent"}},"layer":[
 {"data":{"values":[{}]},"mark":{"type":"rule","color":"#999999","strokeDash":[1,2],"strokeWidth":1},"encoding":{"x":{"datum":0.1,"type":"quantitative","scale":{"type":"log","domain":[0.1,1000000]},"axis":{"orient":"top","values":[1,10,100,1000,10000,100000],"labels":false,"title":null}},"x2":{"datum":1000000},"y":{"datum":0,"type":"quantitative","scale":{"domain":[-0.5,1]},"axis":{"orient":"right","values":[-0.25,0,0.25,0.5,0.75],"labels":false,"title":null}}}},
 {"data":{"name":"all"},"transform":[{"filter":"datum.p=='g' && datum.k=='c' && datum.s!='L'"}],"mark":{"type":"line","interpolate":"monotone","color":"#8d6a8d","strokeWidth":1.5},"encoding":{"x":{"field":"x","type":"quantitative","scale":{"type":"log","domain":[0.1,1000000]},"axis":{"orient":"bottom","values":[1,10,100,1000,10000,100000],"labels":false,"title":null}},"y":{"field":"m","type":"quantitative","scale":{"domain":[-0.5,1]},"axis":{"orient":"left","values":[-0.5,-0.25,0,0.25,0.5,0.75,1],"labelExpr":"datum.value == 1 ? '1.0' : datum.value == 0.5 ? '0.5' : datum.value == 0 ? '0.0' : datum.value == -0.5 ? '-0.5' : ''","title":"Magnetisation, m = n₋ - n₊","titleY":98,"titlePadding":16}},"detail":{"field":"s"}}},
 {"data":{"name":"all"},"transform":[{"filter":"datum.p=='g' && datum.s=='L'"}],"mark":{"type":"line","interpolate":"monotone","color":"#8d6a8d","strokeWidth":1.5,"strokeDash":[6,5]},"encoding":{"x":{"field":"x","type":"quantitative","scale":{"type":"log","domain":[0.1,1000000]},"axis":null},"y":{"field":"m","type":"quantitative","scale":{"domain":[-0.5,1]},"axis":null}}},
 {"data":{"name":"all"},"transform":[{"filter":"datum.p=='g' && datum.k=='o'"}],"mark":{"type":"point","shape":"triangle-up","filled":false,"size":90,"strokeWidth":1.5,"color":"#8d6a8d","opacity":1},"encoding":{"x":{"field":"x","type":"quantitative","scale":{"type":"log","domain":[0.1,1000000]},"axis":null},"y":{"field":"m","type":"quantitative","scale":{"domain":[-0.5,1]},"axis":null}}},
 {"data":{"name":"all"},"transform":[{"filter":"datum.p=='g' && datum.k=='f'"}],"mark":{"type":"point","shape":"triangle-up","filled":true,"size":90,"color":"#8d6a8d","opacity":1},"encoding":{"x":{"field":"x","type":"quantitative","scale":{"type":"log","domain":[0.1,1000000]},"axis":null},"y":{"field":"m","type":"quantitative","scale":{"domain":[-0.5,1]},"axis":null}}},
 {"data":{"name":"all"},"transform":[{"filter":"datum.p=='g' && datum.k=='t'"}],"mark":{"type":"text","align":"left","baseline":"middle","fontSize":14,"color":"#000"},"encoding":{"x":{"field":"x","type":"quantitative","scale":{"type":"log","domain":[0.1,1000000]},"axis":null},"y":{"field":"m","type":"quantitative","scale":{"domain":[-0.5,1]},"axis":null},"text":{"field":"t"}}},
 {"data":{"name":"all"},"transform":[{"filter":"datum.p=='g' && datum.k=='h'"}],"mark":{"type":"text","align":"right","baseline":"middle","fontSize":14,"color":"#000"},"encoding":{"x":{"field":"x","type":"quantitative","scale":{"type":"log","domain":[0.1,1000000]},"axis":null},"y":{"field":"m","type":"quantitative","scale":{"domain":[-0.5,1]},"axis":null},"text":{"field":"t"}}}
]},
{"width":293,"height":108,"resolve":{"axis":{"x":"independent","y":"independent"}},"layer":[
 {"data":{"values":[{}]},"mark":{"type":"rule","color":"#999999","strokeDash":[1,2],"strokeWidth":1},"encoding":{"x":{"datum":0.1,"type":"quantitative","scale":{"type":"log","domain":[0.1,1000000]},"axis":{"orient":"top","values":[1,10,100,1000,10000,100000],"labels":false,"title":null}},"x2":{"datum":1000000},"y":{"datum":0,"type":"quantitative","scale":{"domain":[-0.5,1]},"axis":{"orient":"right","values":[-0.25,0,0.25,0.5,0.75],"labels":false,"title":null}}}},
 {"data":{"name":"all"},"transform":[{"filter":"datum.p=='f' && datum.k=='c' && datum.s!='L'"}],"mark":{"type":"line","interpolate":"monotone","color":"#cf4840","strokeWidth":1.5},"encoding":{"x":{"field":"x","type":"quantitative","scale":{"type":"log","domain":[0.1,1000000]},"axis":{"orient":"bottom","values":[1,10,100,1000,10000,100000],"labels":false,"title":null}},"y":{"field":"m","type":"quantitative","scale":{"domain":[-0.5,1]},"axis":{"orient":"left","values":[-0.5,-0.25,0,0.25,0.5,0.75,1],"labelExpr":"datum.value == 1 ? '1.0' : datum.value == 0.5 ? '0.5' : datum.value == 0 ? '0.0' : datum.value == -0.5 ? '-0.5' : ''","title":null}},"detail":{"field":"s"}}},
 {"data":{"name":"all"},"transform":[{"filter":"datum.p=='f' && datum.s=='L'"}],"mark":{"type":"line","interpolate":"monotone","color":"#cf4840","strokeWidth":1.5,"strokeDash":[6,5]},"encoding":{"x":{"field":"x","type":"quantitative","scale":{"type":"log","domain":[0.1,1000000]},"axis":null},"y":{"field":"m","type":"quantitative","scale":{"domain":[-0.5,1]},"axis":null}}},
 {"data":{"name":"all"},"transform":[{"filter":"datum.p=='f' && datum.k=='o'"}],"mark":{"type":"point","shape":"circle","filled":false,"size":100,"strokeWidth":1.5,"color":"#cf4840","opacity":1},"encoding":{"x":{"field":"x","type":"quantitative","scale":{"type":"log","domain":[0.1,1000000]},"axis":null},"y":{"field":"m","type":"quantitative","scale":{"domain":[-0.5,1]},"axis":null}}},
 {"data":{"name":"all"},"transform":[{"filter":"datum.p=='f' && datum.k=='f'"}],"mark":{"type":"point","shape":"circle","filled":true,"size":100,"color":"#cf4840","opacity":1},"encoding":{"x":{"field":"x","type":"quantitative","scale":{"type":"log","domain":[0.1,1000000]},"axis":null},"y":{"field":"m","type":"quantitative","scale":{"domain":[-0.5,1]},"axis":null}}},
 {"data":{"name":"all"},"transform":[{"filter":"datum.p=='f' && datum.k=='t'"}],"mark":{"type":"text","align":"left","baseline":"middle","fontSize":14,"color":"#000"},"encoding":{"x":{"field":"x","type":"quantitative","scale":{"type":"log","domain":[0.1,1000000]},"axis":null},"y":{"field":"m","type":"quantitative","scale":{"domain":[-0.5,1]},"axis":null},"text":{"field":"t"}}},
 {"data":{"name":"all"},"transform":[{"filter":"datum.p=='f' && datum.k=='h'"}],"mark":{"type":"text","align":"right","baseline":"middle","fontSize":14,"color":"#000"},"encoding":{"x":{"field":"x","type":"quantitative","scale":{"type":"log","domain":[0.1,1000000]},"axis":null},"y":{"field":"m","type":"quantitative","scale":{"domain":[-0.5,1]},"axis":null},"text":{"field":"t"}}}
]},
{"width":293,"height":108,"resolve":{"axis":{"x":"independent","y":"independent"}},"layer":[
 {"data":{"values":[{}]},"mark":{"type":"rule","color":"#999999","strokeDash":[1,2],"strokeWidth":1},"encoding":{"x":{"datum":0.1,"type":"quantitative","scale":{"type":"log","domain":[0.1,1000000]},"axis":{"orient":"top","values":[1,10,100,1000,10000,100000],"labels":false,"title":null}},"x2":{"datum":1000000},"y":{"datum":0,"type":"quantitative","scale":{"domain":[-0.5,1]},"axis":{"orient":"right","values":[-0.25,0,0.25,0.5,0.75],"labels":false,"title":null}}}},
 {"data":{"name":"all"},"transform":[{"filter":"datum.p=='e' && datum.k=='c' && datum.s!='L'"}],"mark":{"type":"line","interpolate":"monotone","color":"#4a7fc5","strokeWidth":1.5},"encoding":{"x":{"field":"x","type":"quantitative","scale":{"type":"log","domain":[0.1,1000000]},"axis":{"orient":"bottom","values":[1,10,100,1000,10000,100000,1000000],"labelExpr":"datum.value < 5 ? '1' : datum.value < 50 ? '10' : '10' + ['', '', '²', '³', '⁴', '⁵', '⁶'][round(log(datum.value) / LN10)]","title":"No. of pulses","titlePadding":5}},"y":{"field":"m","type":"quantitative","scale":{"domain":[-0.5,1]},"axis":{"orient":"left","values":[-0.5,-0.25,0,0.25,0.5,0.75,1],"labelExpr":"datum.value == 1 ? '1.0' : datum.value == 0.5 ? '0.5' : datum.value == 0 ? '0.0' : datum.value == -0.5 ? '-0.5' : ''","title":null}},"detail":{"field":"s"}}},
 {"data":{"name":"all"},"transform":[{"filter":"datum.p=='e' && datum.s=='L'"}],"mark":{"type":"line","interpolate":"monotone","color":"#4a7fc5","strokeWidth":1.5,"strokeDash":[6,5]},"encoding":{"x":{"field":"x","type":"quantitative","scale":{"type":"log","domain":[0.1,1000000]},"axis":null},"y":{"field":"m","type":"quantitative","scale":{"domain":[-0.5,1]},"axis":null}}},
 {"data":{"name":"all"},"transform":[{"filter":"datum.p=='e' && datum.k=='o'"}],"mark":{"type":"point","shape":"square","filled":false,"size":100,"strokeWidth":1.5,"color":"#4a7fc5","opacity":1},"encoding":{"x":{"field":"x","type":"quantitative","scale":{"type":"log","domain":[0.1,1000000]},"axis":null},"y":{"field":"m","type":"quantitative","scale":{"domain":[-0.5,1]},"axis":null}}},
 {"data":{"name":"all"},"transform":[{"filter":"datum.p=='e' && datum.k=='f'"}],"mark":{"type":"point","shape":"square","filled":true,"size":100,"color":"#4a7fc5","opacity":1},"encoding":{"x":{"field":"x","type":"quantitative","scale":{"type":"log","domain":[0.1,1000000]},"axis":null},"y":{"field":"m","type":"quantitative","scale":{"domain":[-0.5,1]},"axis":null}}},
 {"data":{"name":"all"},"transform":[{"filter":"datum.p=='e' && datum.k=='t'"}],"mark":{"type":"text","align":"left","baseline":"middle","fontSize":14,"color":"#000"},"encoding":{"x":{"field":"x","type":"quantitative","scale":{"type":"log","domain":[0.1,1000000]},"axis":null},"y":{"field":"m","type":"quantitative","scale":{"domain":[-0.5,1]},"axis":null},"text":{"field":"t"}}},
 {"data":{"name":"all"},"transform":[{"filter":"datum.p=='e' && datum.k=='h'"}],"mark":{"type":"text","align":"right","baseline":"middle","fontSize":14,"color":"#000"},"encoding":{"x":{"field":"x","type":"quantitative","scale":{"type":"log","domain":[0.1,1000000]},"axis":null},"y":{"field":"m","type":"quantitative","scale":{"domain":[-0.5,1]},"axis":null},"text":{"field":"t"}}}
]}
], "spacing": 19, "bounds": "flush"}
],
"config": {
 "font": "Liberation Sans, DejaVu Sans, sans-serif",
 "view": {"stroke": "#000000", "strokeWidth": 1.8},
 "axis": {"domain": false, "grid": false, "tickSize": -5, "tickColor": "#000000", "tickWidth": 1, "labelPadding": 14, "labelFontSize": 14, "labelColor": "#000000", "titleFontSize": 14, "titleFontWeight": "normal", "titleColor": "#000000", "labelFlush": false}
}
}
